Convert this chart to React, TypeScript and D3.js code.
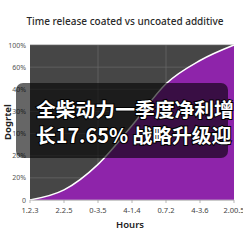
import React from "react";
import * as d3 from "d3";

const categories = ["1.2.3", "2.2.5", "0-3.5", "4-1.4", "0.7.2", "4-3.6", "2.00.5"];
const values = [0, 6.5, 23, 48, 75, 90, 100];
const yTickLabels = ["0", "20%", "20%", "10%", "30%", "40%", "60%", "100%"];
const gridCategories = ["0-3.5", "0.7.2"];
const titleText = "Time release coated vs uncoated additive";
const xTitle = "Hours";
const yTitle = "Dogrtel";
const overlayLines = ["全柴动力一季度净利增", "长17.65% 战略升级迎"];

const W = 243, H = 243;
const L = 30, R = 234, T = 45, B = 200;

export default function App() {
  const x = d3.scalePoint<string>().domain(categories).range([L, R]);
  const y = d3.scaleLinear().domain([0, 100]).range([B, T]);
  const yTickPos = yTickLabels.map((_, i) => (i * 100) / (yTickLabels.length - 1));
  const pts: [number, number][] = categories.map((c, i) => [x(c)!, y(values[i])]);
  const line = d3.line().curve(d3.curveMonotoneX)(pts)!;
  const area = d3.area().curve(d3.curveMonotoneX).y0(B).x((d) => d[0]).y1((d) => d[1])(pts)!;
  const font = "'Noto Sans', 'DejaVu Sans', sans-serif";
  return (
    <svg width={W} height={H} style={{ position: "absolute", left: 0, top: 0, background: "#fff" }}>
      <text x={125} y={25} textAnchor="middle" fontFamily={font} fontSize={10} fontWeight={500} fill="#2a2a2a">{titleText}</text>
      <rect x={L} y={T} width={R - L} height={B - T} fill="#464646" />
      {yTickPos.map((v, i) => (
        <line key={"h" + i} x1={L} x2={R} y1={y(v)} y2={y(v)} stroke="#6a6a6a" strokeWidth={0.7} />
      ))}
      {gridCategories.map((c) => (
        <line key={"v" + c} x1={x(c)} x2={x(c)} y1={T} y2={B} stroke="#6a6a6a" strokeWidth={0.7} />
      ))}
      <path d={area} fill="#8e24aa" />
      <path d={line} fill="none" stroke="#fff" strokeWidth={1.5} />
      <line x1={L} x2={R} y1={B} y2={B} stroke="#ccc" strokeWidth={0.7} />
      {categories.map((c) => (
        <g key={c}>
          <line x1={x(c)} x2={x(c)} y1={B} y2={B + 3} stroke="#999" strokeWidth={0.7} />
          <text x={x(c)} y={213} textAnchor="middle" fontFamily={font} fontSize={7.5} fill="#444">{c}</text>
        </g>
      ))}
      {yTickPos.map((v, i) => (
        <text key={"yl" + i} x={26} y={y(v) + 2.5} textAnchor="end" fontFamily={font} fontSize={7} fill="#555">{yTickLabels[i]}</text>
      ))}
      <text x={130} y={228} textAnchor="middle" fontFamily={font} fontSize={9.5} fontWeight={600} fill="#222">{xTitle}</text>
      <text transform="translate(11,122) rotate(-90)" textAnchor="middle" fontFamily={font} fontSize={9.5} fontWeight={700} fill="#222">{yTitle}</text>
      <rect x={16} y={83} width={212} height={75} rx={7} fill="#000" fillOpacity={0.6} />
      {overlayLines.map((t, i) => (
        <text key={t} x={36} y={117 + i * 26} fontFamily="'Noto Sans CJK SC', sans-serif" fontSize={19.8} fontWeight={700} fill="#fff" stroke="#000" strokeWidth={2} paintOrder="stroke">{t}</text>
      ))}
    </svg>
  );
}
